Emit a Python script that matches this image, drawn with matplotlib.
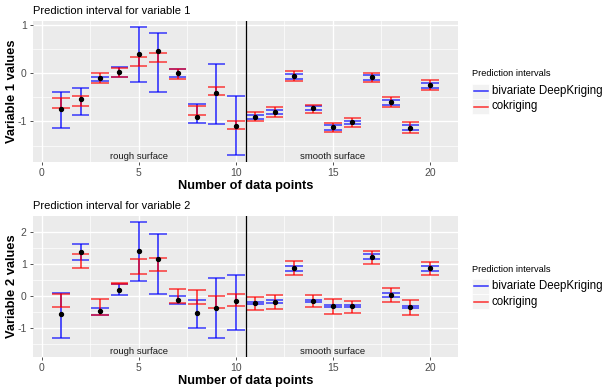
import matplotlib
matplotlib.use("Agg")
import matplotlib.pyplot as plt
import numpy as np
from matplotlib.lines import Line2D
from matplotlib.patches import Rectangle

plt.rcParams['font.family'] = ['Liberation Sans', 'DejaVu Sans']

x = list(range(1, 21))

# Variable 1
pt1 = [-0.75, -0.54, -0.11, 0.03, 0.39, 0.46, 0.00, -0.90, -0.41, -1.10,
       -0.90, -0.81, -0.06, -0.73, -1.12, -1.02, -0.09, -0.60, -1.13, -0.25]
dk1_lo = [-1.13, -0.86, -0.17, -0.09, -0.19, -0.40, -0.07, -1.04, -1.06, -1.70,
          -0.94, -0.85, -0.12, -0.77, -1.17, -1.06, -0.14, -0.65, -1.18, -0.31]
dk1_hi = [-0.38, -0.30, -0.08, 0.13, 0.96, 0.84, 0.08, -0.64, 0.18, -0.47,
          -0.86, -0.77, -0.02, -0.69, -1.08, -0.99, -0.03, -0.55, -1.08, -0.20]
ck1_lo = [-0.72, -0.68, -0.21, -0.07, 0.14, 0.24, -0.12, -0.87, -0.45, -1.15,
          -0.99, -0.90, -0.17, -0.83, -1.22, -1.12, -0.19, -0.70, -1.24, -0.34]
ck1_hi = [-0.52, -0.48, 0.01, 0.10, 0.34, 0.42, 0.09, -0.67, -0.28, -0.99,
          -0.80, -0.70, 0.04, -0.65, -1.03, -0.93, 0.01, -0.50, -1.02, -0.15]

# Variable 2
pt2 = [-0.56, 1.38, -0.47, 0.20, 1.43, 1.16, -0.13, -0.53, -0.36, -0.14,
       -0.22, -0.17, 0.89, -0.15, -0.31, -0.31, 1.23, 0.04, -0.35, 0.89]
dk2_lo = [-1.31, 1.14, -0.59, 0.04, 0.47, 0.07, -0.25, -0.98, -1.32, -1.06,
          -0.25, -0.21, 0.80, -0.19, -0.35, -0.35, 1.16, -0.01, -0.38, 0.78]
dk2_hi = [0.10, 1.64, -0.38, 0.38, 2.31, 1.95, 0.00, -0.12, 0.56, 0.68,
          -0.19, -0.13, 0.94, -0.12, -0.27, -0.27, 1.31, 0.09, -0.31, 0.95]
ck2_lo = [-0.34, 0.89, -0.58, 0.37, 0.71, 0.78, -0.22, -0.25, -0.37, -0.29,
          -0.43, -0.40, 0.66, -0.35, -0.54, -0.52, 1.00, -0.17, -0.58, 0.66]
ck2_hi = [0.08, 1.33, -0.09, 0.43, 1.15, 1.19, 0.24, 0.19, 0.00, 0.07,
          -0.01, 0.05, 1.11, 0.03, -0.10, -0.14, 1.43, 0.25, -0.13, 1.06]

xticks = [0, 5, 10, 15, 20]
yticks1 = [-1, 0, 1]
yticks2 = [-1, 0, 1, 2]
series_names = ["bivariate DeepKriging", "cokriging"]
colors = ["#0000FF", "#FF0000"]
region_labels = ["rough surface", "smooth surface"]

W, H = 611, 391
fig = plt.figure(figsize=(W / 100, H / 100), dpi=100)
fig.patch.set_facecolor("white")

def px_axes(l, t, r, b):
    return fig.add_axes([l / W, 1 - b / H, (r - l) / W, (b - t) / H])

def panel(ax, pt, dk_lo, dk_hi, ck_lo, ck_hi, yticks, ylim, title, ylabel):
    ax.set_facecolor("#EBEBEB")
    for s in ax.spines.values():
        s.set_visible(False)
    xa = np.array(x, dtype=float)
    half = 0.45
    for lo, hi, c in [(dk_lo, dk_hi, colors[0]), (ck_lo, ck_hi, colors[1])]:
        ax.vlines(xa, lo, hi, color=c, alpha=0.85, lw=1.1, zorder=3)
        ax.hlines(lo, xa - half, xa + half, color=c, alpha=0.65, lw=1.3, zorder=3)
        ax.hlines(hi, xa - half, xa + half, color=c, alpha=0.65, lw=1.3, zorder=3)
    ax.scatter(xa, pt, s=8, color="black", zorder=5)
    ax.axvline(10.5, color="black", lw=0.9, zorder=4)
    ax.set_xlim(-0.45, 21.45)
    ax.set_ylim(*ylim)
    ax.set_xticks(xticks)
    ax.set_yticks(yticks)
    ax.set_xticks([2.5, 7.5, 12.5, 17.5], minor=True)
    ax.set_yticks([v + 0.5 for v in yticks[:-1]] + [yticks[0] - 0.5], minor=True)
    ax.grid(True, which="major", color="white", lw=1.0, zorder=0)
    ax.grid(True, which="minor", color="white", lw=0.5, zorder=0)
    ax.set_axisbelow(True)
    ax.set_xticklabels([str(v) for v in xticks])
    ax.set_yticklabels([str(v) for v in yticks])
    ax.tick_params(which="major", length=2.5, width=0.6, color="#333333",
                   labelsize=7.5, labelcolor="#4D4D4D", pad=2)
    ax.tick_params(which="minor", length=0)
    ax.set_title(title, loc="left", fontsize=8, pad=5)
    ax.set_ylabel(ylabel, fontsize=9.3, fontweight="bold", va="center")
    ax.yaxis.set_label_coords(-0.05, 0.5)
    ax.set_xlabel("Number of data points", fontsize=9.2, fontweight="bold", labelpad=1)
    ax.text(5, -1.72, region_labels[0], ha="center", va="center", fontsize=6.8, color="#1A1A1A")
    ax.text(15, -1.72, region_labels[1], ha="center", va="center", fontsize=6.8, color="#1A1A1A")

ax1 = px_axes(33, 21, 458, 162)
panel(ax1, pt1, dk1_lo, dk1_hi, ck1_lo, ck1_hi, yticks1, (-1.84, 1.08),
      "Prediction interval for variable 1", "Variable 1 values")
ax2 = px_axes(33, 216, 458, 357)
panel(ax2, pt2, dk2_lo, dk2_hi, ck2_lo, ck2_hi, yticks2, (-1.90, 2.51),
      "Prediction interval for variable 2", "Variable 2 values")

def legend(ytitle):
    fig.text(472 / W, 1 - ytitle / H, "Prediction intervals", fontsize=6.7,
             ha="left", va="center", color="black")
    for i, (name, c) in enumerate(zip(series_names, colors)):
        yc = ytitle + 17 + i * 15.5
        fig.patches.append(Rectangle((472 / W, 1 - (yc + 7.5) / H), 17 / W, 15 / H,
                                     transform=fig.transFigure, facecolor="#F2F2F2",
                                     edgecolor="white", lw=0.5))
        fig.lines.append(Line2D([474 / W, 488 / W], [1 - yc / H, 1 - yc / H],
                                transform=fig.transFigure, color=c, lw=1.1, alpha=0.8))
        fig.text(492 / W, 1 - yc / H, name, fontsize=8.3, ha="left", va="center")

legend(74)
legend(269)

fig.savefig("out.png", dpi=100, facecolor="white")
